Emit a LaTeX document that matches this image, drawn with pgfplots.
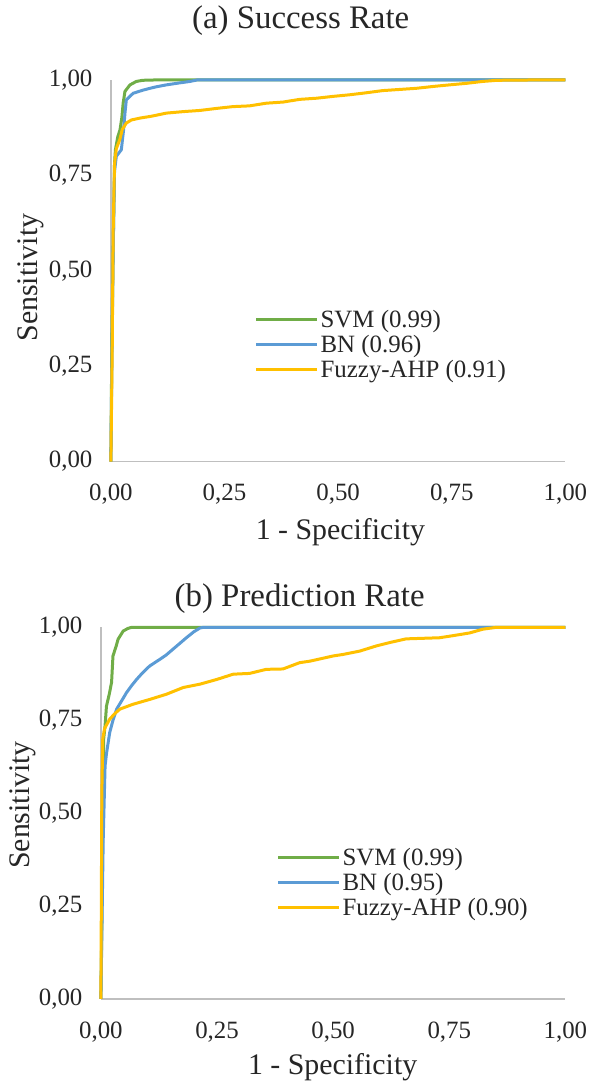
\documentclass[border=0pt]{standalone}
\usepackage{fontspec}
\setmainfont{Liberation Serif}
\usepackage{pgfplots}
\pgfplotsset{compat=1.18}

\definecolor{svmgreen}{HTML}{70AD47}
\definecolor{bnblue}{HTML}{5B9BD5}
\definecolor{fuzzygold}{HTML}{FFC000}
\definecolor{axgray}{HTML}{BFBFBF}

\pgfplotsset{
  rocaxis/.style={
    scale only axis, clip=false,
    xmin=0, xmax=1, ymin=0, ymax=1,
    axis lines*=left,
    axis line style={-, draw=axgray, line width=1.6bp},
    major tick length=0pt,
    xtick={0,0.25,0.5,0.75,1}, ytick={0,0.25,0.5,0.75,1},
    /pgf/number format/fixed, /pgf/number format/fixed zerofill,
    /pgf/number format/precision=2, /pgf/number format/use comma,
    /pgf/number format/assume math mode=true,
    tick label style={font=\fontsize{25}{29}\selectfont, text=black!85},
    xticklabel style={yshift=-19bp},
    yticklabel style={xshift=-15bp},
    xlabel={1 - Specificity}, ylabel={Sensitivity},
    legend style={draw=none, fill=none, font=\fontsize{25}{29}\selectfont,
      text=black!85, inner sep=0pt, row sep=2.3bp, nodes={inner sep=2bp}},
    legend cell align=left,
    legend image code/.code={\draw[#1] (0bp,0bp) -- (61bp,0bp);},
  },
  svm/.style={svmgreen, line width=3bp, no marks, line join=round},
  bn/.style={bnblue, line width=3bp, no marks, line join=round},
  fz/.style={fuzzygold, line width=3bp, no marks, line join=round},
}

\begin{document}
\begin{tikzpicture}
\path (0,0) rectangle (598bp,-1084bp);

\node[font=\fontsize{33}{39}\selectfont, text=black!85] at (301bp,-21bp) {(a) Success Rate};
\node[font=\fontsize{33}{39}\selectfont, text=black!85] at (300bp,-599bp) {(b) Prediction Rate};

% (a) success rate
\begin{axis}[rocaxis, at={(111bp,-462bp)}, anchor=south west,
  width=455bp, height=382bp,
  every axis x label/.style={at={(axis description cs:0.505,-0.186)}, anchor=center,
    font=\fontsize{30}{35}\selectfont, text=black!85},
  every axis y label/.style={at={(axis description cs:-0.176,0.482)}, anchor=center,
    rotate=90, font=\fontsize{30}{35}\selectfont, text=black!85},
  legend style={at={(0.316,0.402)}, anchor=north west}]
\addplot[svm] coordinates {
  (0,0) (0.002,0.30) (0.005,0.55) (0.008,0.78) (0.010,0.817) (0.015,0.85)
  (0.020,0.869) (0.024,0.90) (0.027,0.939) (0.031,0.970) (0.042,0.987)
  (0.056,0.996) (0.070,0.999) (0.10,1.0) (1.0,1.0)
};
\addlegendentry{SVM (0.99)}
\addplot[bn] coordinates {
  (0,0) (0.002,0.25) (0.005,0.55) (0.008,0.76) (0.012,0.80) (0.023,0.817)
  (0.028,0.87) (0.031,0.913) (0.034,0.948) (0.049,0.965) (0.07,0.973)
  (0.086,0.978) (0.10,0.982) (0.122,0.987) (0.15,0.992) (0.174,0.996)
  (0.19,1.0) (1.0,1.0)
};
\addlegendentry{BN (0.96)}
\addplot[fz] coordinates {
  (0,0) (0.003,0.30) (0.005,0.60) (0.008,0.78) (0.012,0.82) (0.02,0.845)
  (0.025,0.87) (0.034,0.887) (0.045,0.895) (0.064,0.90) (0.09,0.905)
  (0.122,0.913) (0.16,0.917) (0.196,0.92) (0.23,0.925) (0.268,0.93)
  (0.305,0.932) (0.342,0.939) (0.379,0.942) (0.415,0.949) (0.452,0.952)
  (0.49,0.957) (0.525,0.961) (0.56,0.966) (0.598,0.972) (0.635,0.975)
  (0.672,0.978) (0.71,0.983) (0.745,0.987) (0.782,0.991) (0.818,0.996)
  (0.85,0.999) (0.936,1.0) (1.0,1.0)
};
\addlegendentry{Fuzzy-AHP (0.91)}
\end{axis}

% (b) prediction rate
\begin{axis}[rocaxis, at={(101bp,-1000bp)}, anchor=south west,
  width=465bp, height=372bp,
  every axis x label/.style={at={(axis description cs:0.499,-0.183)}, anchor=center,
    font=\fontsize{30}{35}\selectfont, text=black!85},
  every axis y label/.style={at={(axis description cs:-0.168,0.522)}, anchor=center,
    rotate=90, font=\fontsize{30}{35}\selectfont, text=black!85},
  legend style={at={(0.378,0.412)}, anchor=north west}]
\addplot[svm] coordinates {
  (0,0) (0.002,0.20) (0.004,0.50) (0.006,0.70) (0.009,0.735) (0.012,0.788)
  (0.018,0.82) (0.023,0.852) (0.026,0.923) (0.033,0.95) (0.037,0.968)
  (0.048,0.99) (0.058,0.997) (0.066,1.0) (1.0,1.0)
};
\addlegendentry{SVM (0.99)}
\addplot[bn] coordinates {
  (0,0) (0.002,0.17) (0.005,0.43) (0.009,0.627) (0.012,0.66) (0.019,0.717)
  (0.026,0.75) (0.034,0.78) (0.045,0.803) (0.055,0.824) (0.066,0.843)
  (0.077,0.86) (0.09,0.878) (0.105,0.896) (0.127,0.914) (0.14,0.925)
  (0.155,0.941) (0.17,0.957) (0.184,0.972) (0.20,0.988) (0.213,0.998)
  (0.22,1.0) (1.0,1.0)
};
\addlegendentry{BN (0.95)}
\addplot[fz] coordinates {
  (0,0) (0.002,0.55) (0.004,0.70) (0.008,0.728) (0.019,0.753) (0.03,0.768)
  (0.041,0.78) (0.069,0.793) (0.105,0.806) (0.141,0.82) (0.177,0.838)
  (0.213,0.847) (0.25,0.86) (0.285,0.874) (0.32,0.876) (0.356,0.887)
  (0.392,0.888) (0.428,0.905) (0.45,0.909) (0.5,0.923) (0.521,0.927)
  (0.557,0.936) (0.593,0.95) (0.625,0.96) (0.657,0.969) (0.729,0.972)
  (0.76,0.978) (0.794,0.985) (0.822,0.995) (0.851,1.0) (1.0,1.0)
};
\addlegendentry{Fuzzy-AHP (0.90)}
\end{axis}
\end{tikzpicture}
\end{document}
